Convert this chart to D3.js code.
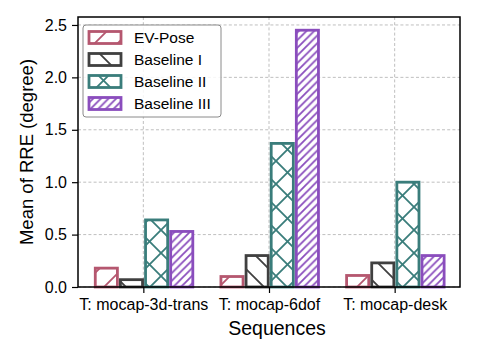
<!DOCTYPE html>
<html><head><meta charset="utf-8">
<script src="https://cdn.jsdelivr.net/npm/d3@7"></script>
<style>body{margin:0;background:#fff;} text{font-family:"Liberation Sans",Arial,Helvetica,sans-serif;}</style>
</head><body>
<svg id="c" width="478" height="359"></svg>
<script>
const categories = ["T: mocap-3d-trans", "T: mocap-6dof", "T: mocap-desk"];
const seriesNames = ["EV-Pose", "Baseline I", "Baseline II", "Baseline III"];
const evPose = [0.18, 0.10, 0.11];
const baselineI = [0.07, 0.30, 0.23];
const baselineII = [0.64, 1.37, 1.00];
const baselineIII = [0.53, 2.45, 0.30];
const yTicks = [0.0, 0.5, 1.0, 1.5, 2.0, 2.5];
const colors = ["#b5576f", "#404040", "#3a7d7b", "#8a4dbd"];
const hatches = ["/", "\\", "x", "///"];

const series = [evPose, baselineI, baselineII, baselineIII];
const svg = d3.select("#c");
const L = 78, R = 460, T = 17, B = 287;
const x = d3.scaleLinear().domain([-0.52, 2.52]).range([L, R]);
const y = d3.scaleLinear().domain([0, 2.576]).range([B, T]);
const bw = 0.2;

// hatch patterns
const defs = svg.append("defs");
function addPattern(id, type, color) {
  const P = type === "///" ? 7.67 : 23;
  const p = defs.append("pattern").attr("id", id).attr("patternUnits", "userSpaceOnUse")
    .attr("width", P).attr("height", P);
  p.append("rect").attr("width", P).attr("height", P).attr("fill", "#fff");
  const g = p.append("g").attr("stroke", color).attr("stroke-width", 1.8).attr("fill", "none");
  const ne = () => g.append("path").attr("d", `M${-P},${P} L${P},${-P} M0,${P} L${P},0 M0,${2*P} L${2*P},0`);
  const nw = () => g.append("path").attr("d", `M0,0 L${P},${P} M${-P},0 L${P},${2*P} M0,${-P} L${2*P},${P}`);
  if (type === "/" || type === "///") ne();
  if (type === "\\") nw();
  if (type === "x") { ne(); nw(); }
}
series.forEach((s, k) => addPattern("h" + k, hatches[k], colors[k]));

// grid
const grid = svg.append("g").attr("stroke", "#b8b8b8").attr("stroke-width", 0.9).attr("stroke-dasharray", "3,2.2");
yTicks.forEach(t => grid.append("line").attr("x1", L).attr("x2", R).attr("y1", y(t)).attr("y2", y(t)));
categories.forEach((c, i) => grid.append("line").attr("x1", x(i)).attr("x2", x(i)).attr("y1", T).attr("y2", B));

// bars
series.forEach((s, k) => {
  svg.append("g").selectAll("rect").data(s).join("rect")
    .attr("x", (d, i) => x(i + (k - 2) * bw) + 2.2)
    .attr("width", x(bw) - x(0) - 3)
    .attr("y", d => y(d))
    .attr("height", d => y(0) - y(d))
    .attr("fill", `url(#h${k})`)
    .attr("stroke", colors[k]).attr("stroke-width", 2.8);
});

// axes
const yAxis = d3.axisLeft(y).tickValues(yTicks).tickFormat(d3.format(".1f")).tickSize(6).tickPadding(5);
const xAxis = d3.axisBottom(x).tickValues([0, 1, 2]).tickFormat(i => categories[i]).tickSize(6).tickPadding(6);
const ga = svg.append("g").attr("transform", `translate(${L},0)`).call(yAxis);
const gx = svg.append("g").attr("transform", `translate(0,${B})`).call(xAxis);
[ga, gx].forEach(g => {
  g.select(".domain").remove();
  g.selectAll("line").attr("stroke", "#000").attr("stroke-width", 1.2);
  g.selectAll("text").attr("fill", "#000").style("font-size", "16px");
});
svg.append("rect").attr("x", L).attr("y", T).attr("width", R - L).attr("height", B - T)
  .attr("fill", "none").attr("stroke", "#000").attr("stroke-width", 1.5);

// labels
svg.append("text").attr("x", (L + R) / 2 + 8).attr("y", 335).attr("text-anchor", "middle")
  .style("font-size", "19.5px").text("Sequences");
svg.append("text").attr("transform", `translate(33,${(T + B) / 2 + 0}) rotate(-90)`)
  .attr("text-anchor", "middle").style("font-size", "18.5px").text("Mean of RRE (degree)");

// legend
const lg = svg.append("g");
lg.append("rect").attr("x", 83).attr("y", 25).attr("width", 138).attr("height", 92).attr("rx", 3)
  .attr("fill", "#fff").attr("fill-opacity", 0.85).attr("stroke", "#8a8a8a").attr("stroke-width", 1);
seriesNames.forEach((n, k) => {
  const cy = 37.5 + k * 22;
  lg.append("rect").attr("x", 89).attr("y", cy - 6).attr("width", 32).attr("height", 12)
    .attr("fill", `url(#h${k})`).attr("stroke", colors[k]).attr("stroke-width", 2.8);
  lg.append("text").attr("x", 134).attr("y", cy + 5.5).style("font-size", "15.5px").text(n);
});
</script>
</body></html>
